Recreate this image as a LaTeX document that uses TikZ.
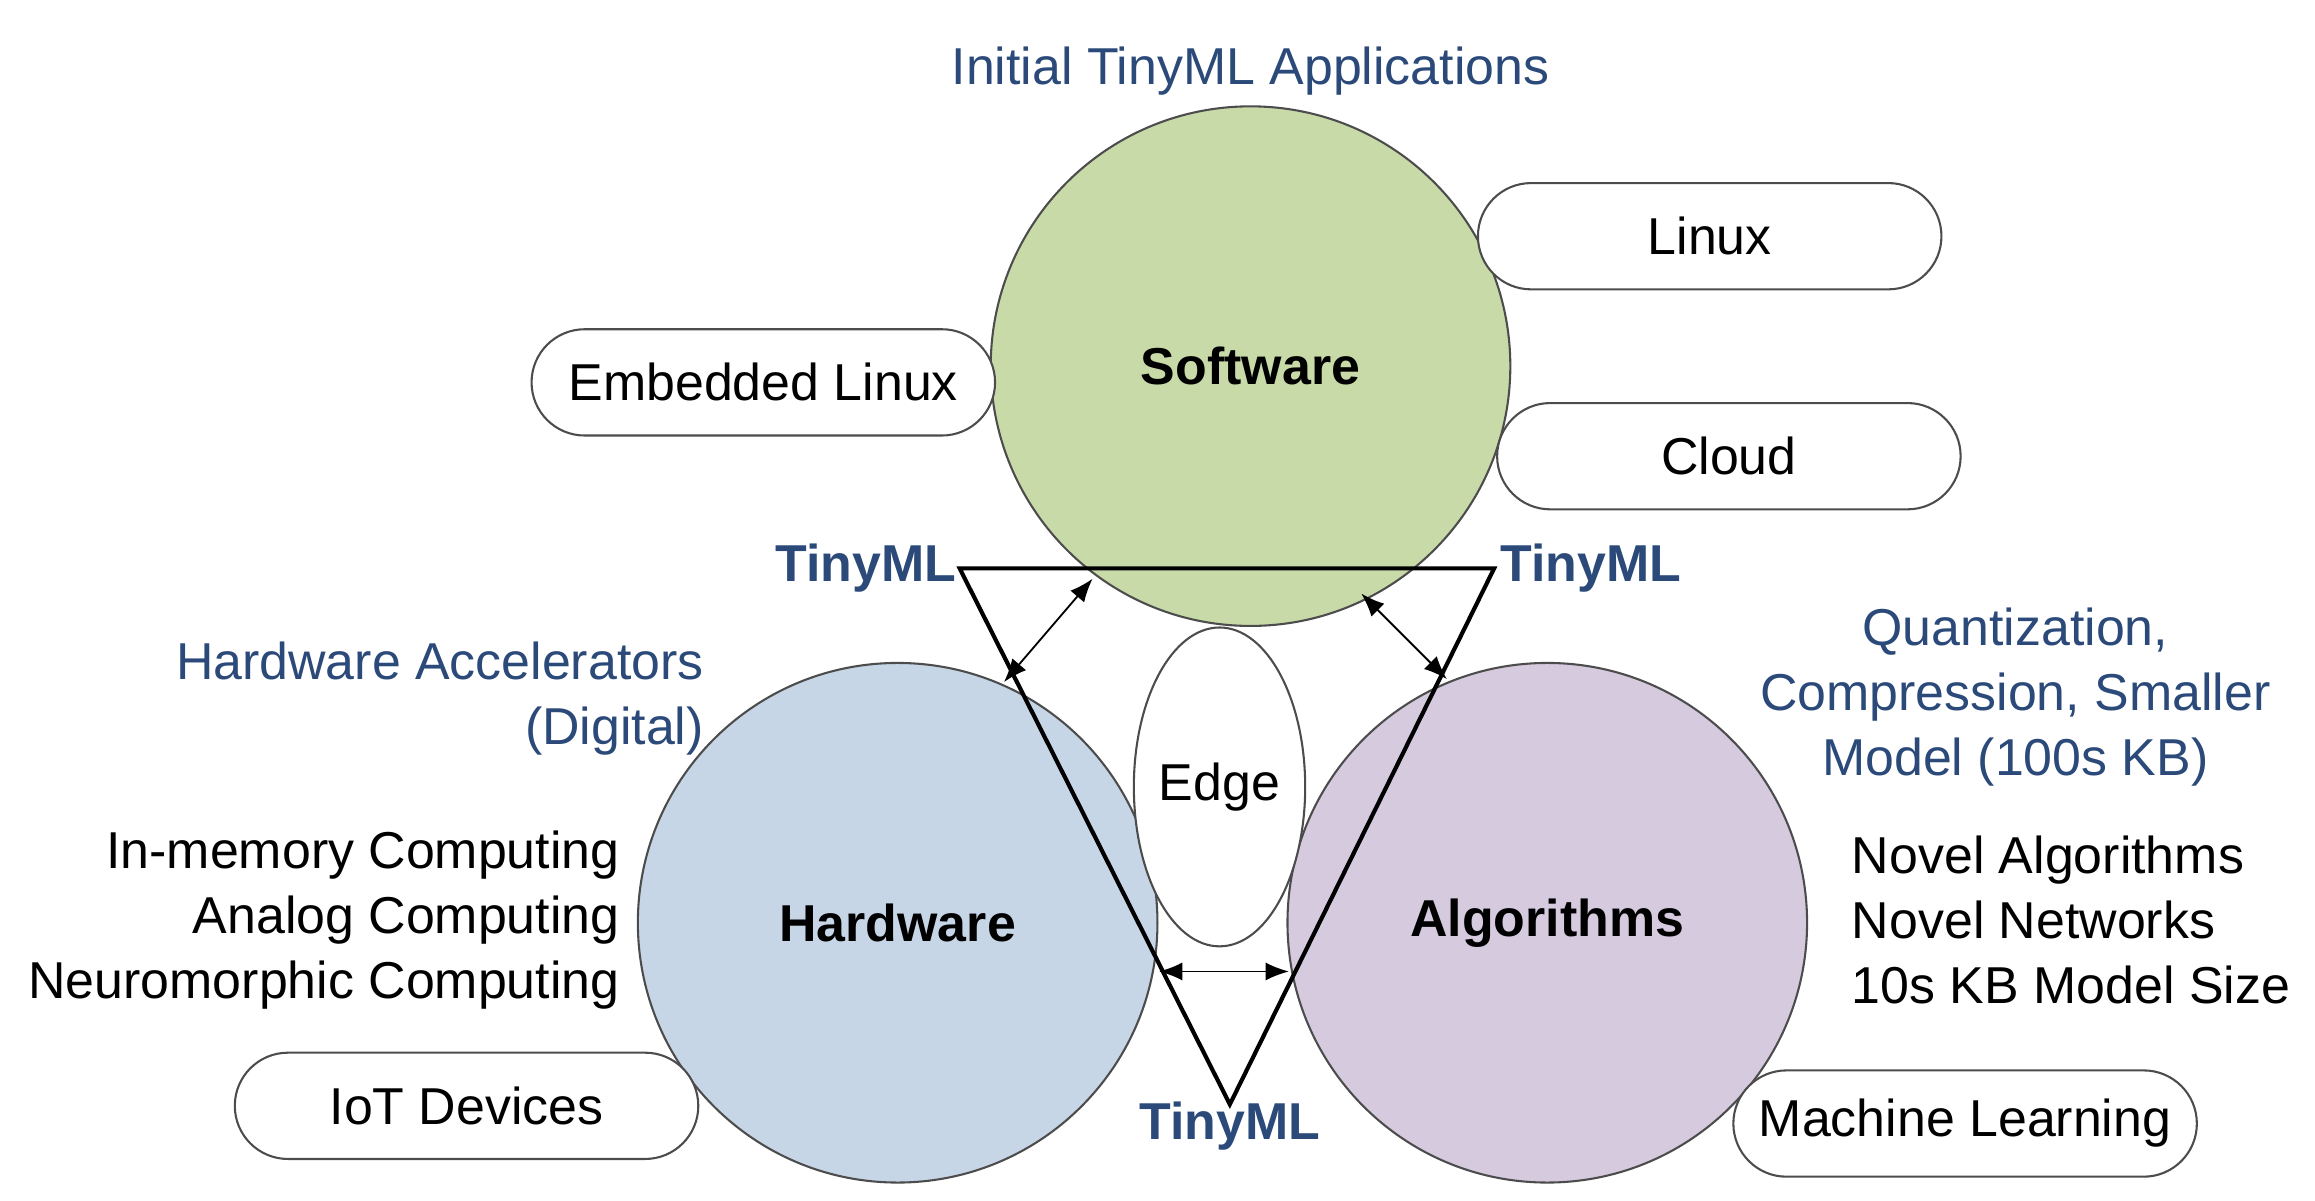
\documentclass[tikz,border=0pt]{standalone}
\usepackage{fontspec}
\setmainfont{Liberation Sans}
\usetikzlibrary{shapes.geometric,arrows.meta}
\definecolor{sw}{HTML}{C9DAA9}
\definecolor{hw}{HTML}{C7D6E6}
\definecolor{al}{HTML}{D6CADF}
\definecolor{tb}{HTML}{2B4A7A}
\begin{document}
\begin{tikzpicture}[x=0.02cm,y=-0.02cm,
  circ/.style={circle,draw=black!70,line width=0.8pt,minimum size=7.04cm,inner sep=0pt,font=\fontsize{20}{24}\selectfont\bfseries},
  pill/.style={rounded corners=0.72cm,draw=black!70,line width=0.8pt,fill=white,minimum width=6.28cm,minimum height=1.44cm,font=\fontsize{20}{24}\selectfont},
  lab/.style={font=\fontsize{20}{25}\selectfont,inner sep=0pt},
  blab/.style={lab,text=tb},
  tml/.style={font=\fontsize{20}{24}\selectfont\bfseries,text=tb,inner sep=0pt},
  arr/.style={{Latex[length=9pt,width=7pt]}-{Latex[length=9pt,width=7pt]},line width=0.7pt}]
\useasboundingbox (0,0) rectangle (1568,813);
\node[circ,fill=hw] (hw) at (608,625) {Hardware};
\node[circ,fill=al] (al) at (1048,625) {Algorithms};
\node[circ,fill=sw] (sw) at (847,248) {};
\node[font=\fontsize{20}{24}\selectfont\bfseries] (swl) at (847,248) {Software};
\node[ellipse,draw=black!70,line width=0.8pt,fill=white,minimum width=2.24cm,minimum height=4.32cm,inner sep=0pt,font=\fontsize{20}{24}\selectfont] (edge) at (826,533) {Edge};
\coordinate (t1) at (650,385); \coordinate (t2) at (1012,385); \coordinate (t3) at (833,748);
\draw[line width=1.6pt,line join=miter] (t1) -- (t2) -- (t3) -- cycle;
\coordinate (a1) at (680,462); \coordinate (a2) at (740,392);
\coordinate (b1) at (922,402); \coordinate (b2) at (980,460);
\coordinate (c1) at (785,658); \coordinate (c2) at (873,658);
\draw[arr] (a1) -- (a2); \draw[arr] (b1) -- (b2); \draw[arr] (c1) -- (c2);
\node[pill] (linux) at (1158,160) {Linux};
\node[pill] (emb) at (517,259) {Embedded Linux};
\node[pill] (cloud) at (1171,309) {Cloud};
\node[pill] (iot) at (316,749) {IoT Devices};
\node[pill] (ml) at (1331,761) {Machine Learning};
\node[blab] (init) at (847,48) {Initial TinyML Applications};
\node[tml,anchor=east] (tm1) at (648,385) {TinyML};
\node[tml,anchor=west] (tm2) at (1016,385) {TinyML};
\node[tml] (tm3) at (833,763) {TinyML};
\node[blab,anchor=east,align=right] (hwa) at (477,473) {Hardware Accelerators\\(Digital)};
\node[blab,align=center] (q) at (1365,472) {Quantization,\\Compression, Smaller\\Model (100s KB)};
\node[lab,anchor=east,align=right] (ll) at (420,623) {In-memory Computing\\Analog Computing\\Neuromorphic Computing};
\node[lab,anchor=west,align=left] (rl) at (1254,623) {Novel Algorithms\\Novel Networks\\10s KB Model Size};
\end{tikzpicture}
\end{document}
